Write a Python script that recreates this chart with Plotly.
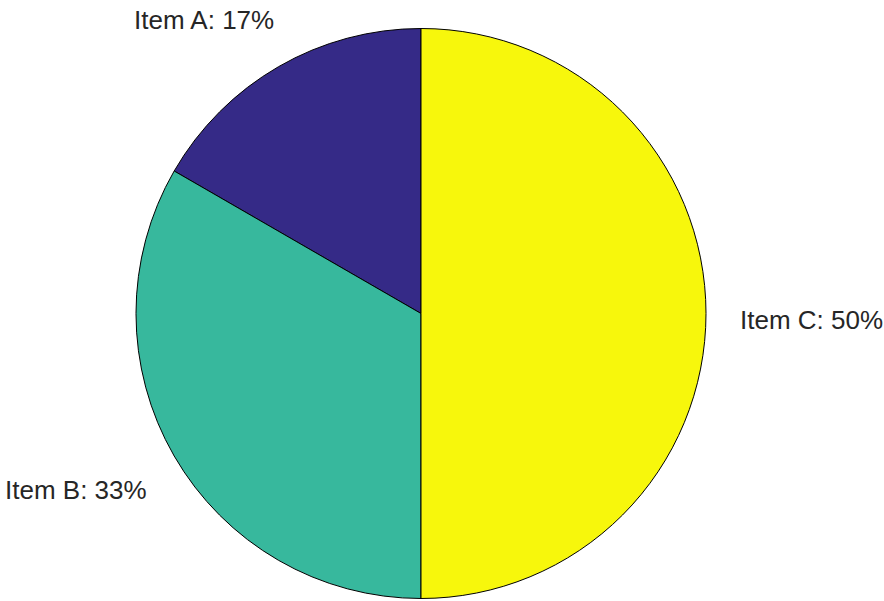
import plotly.graph_objects as go

labels = ["Item A", "Item B", "Item C"]
values = [1, 2, 3]
colors = ["#352a87", "#37b89d", "#f7f70c"]

W, H = 884, 601
total = sum(values)
pcts = [round(100 * v / total) for v in values]
texts = [f"{l}: {p}%" for l, p in zip(labels, pcts)]

# label anchor positions (pixels) and alignments
label_px = [(276, 20), (149, 490), (738, 320)]
label_anchor = ["right", "right", "left"]

fig = go.Figure(go.Pie(
    labels=labels, values=values, sort=False, direction="counterclockwise",
    rotation=-360 * values[0] / total, textinfo="none", hoverinfo="label+percent",
    marker=dict(colors=colors, line=dict(color="black", width=1)),
    domain=dict(x=[136 / W, 706 / W], y=[1 - 599 / H, 1 - 28 / H]),
    showlegend=False,
))

for t, (px, py), a in zip(texts, label_px, label_anchor):
    fig.add_annotation(x=px / W, y=1 - py / H, xref="paper", yref="paper",
                       text=t, showarrow=False, xanchor=a, yanchor="middle",
                       font=dict(family="Liberation Sans, Arial", size=26, color="#262626"))

fig.update_layout(width=W, height=H, margin=dict(l=0, r=0, t=0, b=0),
                  paper_bgcolor="white", plot_bgcolor="white")
fig.write_html("out.html", config={"displayModeBar": False},
               post_script="document.body.style.margin='0';")
